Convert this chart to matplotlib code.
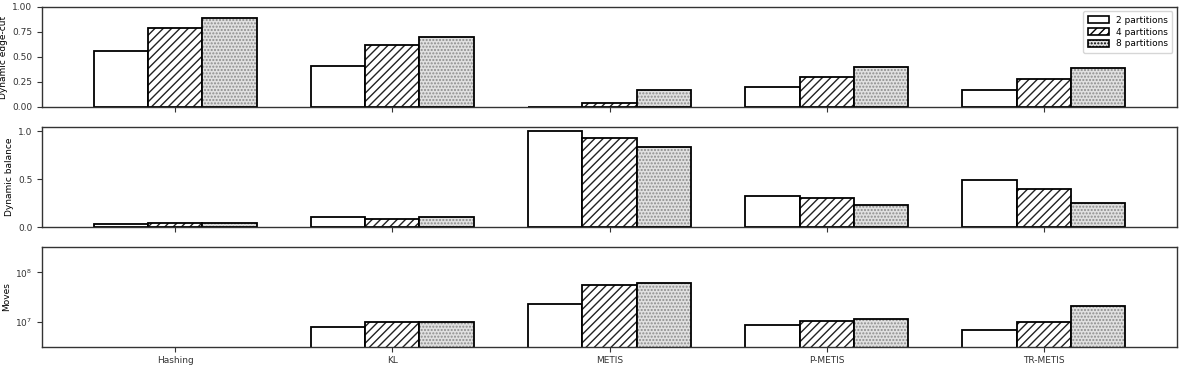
import numpy as np
import matplotlib
matplotlib.use("Agg")
import matplotlib.pyplot as plt
from matplotlib.ticker import NullLocator
from matplotlib.patches import Patch

categories = ["Hashing", "KL", "METIS", "P-METIS", "TR-METIS"]
series_labels = ["2 partitions", "4 partitions", "8 partitions"]

edge_cut = {
    "2 partitions": [0.56, 0.41, 0.00, 0.20, 0.17],
    "4 partitions": [0.79, 0.62, 0.04, 0.30, 0.28],
    "8 partitions": [0.89, 0.70, 0.17, 0.40, 0.39],
}
balance = {
    "2 partitions": [0.04, 0.11, 1.00, 0.33, 0.49],
    "4 partitions": [0.05, 0.09, 0.93, 0.31, 0.40],
    "8 partitions": [0.05, 0.11, 0.84, 0.23, 0.25],
}
moves = {
    "2 partitions": [0, 8.0e6, 2.3e7, 8.7e6, 6.9e6],
    "4 partitions": [0, 1.0e7, 5.6e7, 1.03e7, 1.0e7],
    "8 partitions": [0, 1.0e7, 6.2e7, 1.15e7, 2.1e7],
}

styles = {
    "2 partitions": dict(facecolor="white", hatch=None, hcolor="black"),
    "4 partitions": dict(facecolor="white", hatch="////", hcolor="#222222"),
    "8 partitions": dict(facecolor="#e0e0e0", hatch=".....", hcolor="#8c8c8c"),
}

plt.rcParams["font.family"] = ["DejaVu Sans"]
plt.rcParams["font.size"] = 6.5
plt.rcParams["hatch.linewidth"] = 1.0
plt.rcParams["axes.edgecolor"] = "#333333"
plt.rcParams["axes.linewidth"] = 1.0

fig = plt.figure(figsize=(11.88, 3.65), dpi=100)
left, width = 0.0354, 0.9553
ax1 = fig.add_axes([left, 0.707, width, 0.274])
ax2 = fig.add_axes([left, 0.377, width, 0.276])
ax3 = fig.add_axes([left, 0.050, width, 0.274])

x = np.arange(len(categories))
w = 0.25
offsets = [-w, 0, w]

def draw(ax, data, log=False):
    if log:
        ax.set_yscale("log")
    for off, lab in zip(offsets, series_labels):
        vals = np.array(data[lab], dtype=float)
        if log:
            vals = np.where(vals > 0, vals, np.nan)
        st = styles[lab]
        # fill + hatch layer
        ax.bar(x + off, vals, w, facecolor=st["facecolor"], hatch=st["hatch"],
               edgecolor=st["hcolor"], linewidth=0)
        # outline layer
        ax.bar(x + off, vals, w, facecolor="none", edgecolor="black", linewidth=1.3)
    ax.set_xticks(x)
    ax.tick_params(labelsize=6.5, colors="#333333", labelcolor="#333333")

draw(ax1, edge_cut)
ax1.set_ylim(0, 1.0)
ax1.set_yticks([0, 0.25, 0.5, 0.75, 1.0])
ax1.set_xticklabels([])
ax1.set_ylabel("Dynamic edge-cut", fontsize=6.5, labelpad=3)

handles = []
for lab in series_labels:
    st = styles[lab]
    handles.append(Patch(facecolor=st["facecolor"], hatch=st["hatch"],
                         edgecolor="black", linewidth=1.2, label=lab))
ax1.legend(handles=handles, loc="upper right", fontsize=6.5, handlelength=2.3,
           handleheight=0.8, labelspacing=0.3, borderpad=0.5,
           edgecolor="#cccccc", fancybox=True)

draw(ax2, balance)
ax2.set_xticklabels([])
ax2.set_yticks([0, 0.5, 1.0])
ax2.set_ylabel("Dynamic balance", fontsize=6.5, labelpad=3)

draw(ax3, moves, log=True)
ax3.set_ylim(10**6.503, 10**8.515)
ax3.set_yticks([1e7, 1e8])
ax3.yaxis.set_minor_locator(NullLocator())
ax3.set_xticklabels(categories)
ax3.set_ylabel("Moves", fontsize=6.5, labelpad=3)

for ax in (ax1, ax2, ax3):
    ax.set_xlim(-0.6125, 4.6125)

fig.savefig("out.png", dpi=100)
